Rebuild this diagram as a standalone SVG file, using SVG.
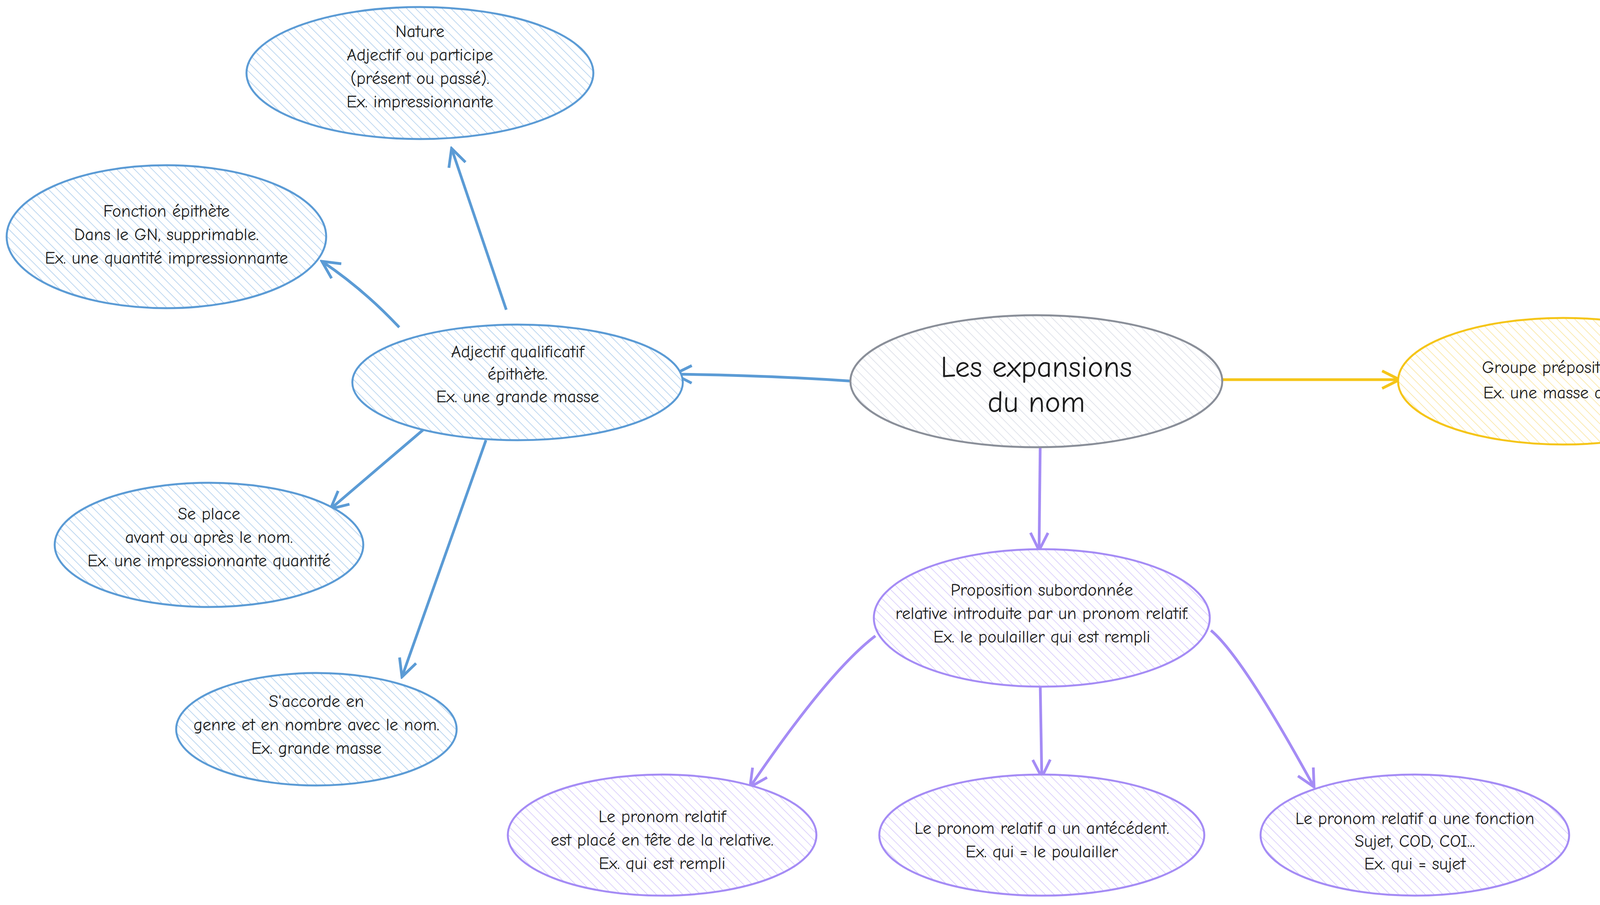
<svg xmlns="http://www.w3.org/2000/svg" width="5524" height="2317" viewBox="0 0 5524 2317">
<style>
text{font-family:"Comic Neue","Open Sans","Liberation Sans",sans-serif;font-size:44px;fill:#1e1e1e;text-anchor:middle}
.t{font-size:76px}
ellipse{stroke-width:5}
.b{stroke:#5b9bd5}.y{stroke:#f5c518}.p{stroke:#a58cf5}.g{stroke:#8a8f99}
.cb{stroke:#5b9bd5;fill:none;stroke-width:7;marker-end:url(#ab)}
.cy{stroke:#f5c518;fill:none;stroke-width:7;marker-end:url(#ay)}
.cp{stroke:#a58cf5;fill:none;stroke-width:7;marker-end:url(#ap)}
</style>
<defs>
<pattern id="hb" width="16" height="16" patternUnits="userSpaceOnUse" patternTransform="rotate(-45)"><rect width="16" height="16" fill="#fff"/><line x1="0" y1="0" x2="0" y2="16" stroke="#a9cbec" stroke-width="3"/></pattern>
<pattern id="hy" width="16" height="16" patternUnits="userSpaceOnUse" patternTransform="rotate(-45)"><rect width="16" height="16" fill="#fff"/><line x1="0" y1="0" x2="0" y2="16" stroke="#f9e49a" stroke-width="3"/></pattern>
<pattern id="hp" width="16" height="16" patternUnits="userSpaceOnUse" patternTransform="rotate(-45)"><rect width="16" height="16" fill="#fff"/><line x1="0" y1="0" x2="0" y2="16" stroke="#d3c6fb" stroke-width="3"/></pattern>
<pattern id="hg" width="16" height="16" patternUnits="userSpaceOnUse" patternTransform="rotate(-45)"><rect width="16" height="16" fill="#fff"/><line x1="0" y1="0" x2="0" y2="16" stroke="#d8dce6" stroke-width="3"/></pattern>
<marker id="ab" viewBox="0 0 20 20" refX="18" refY="10" markerWidth="8" markerHeight="8" orient="auto" markerUnits="strokeWidth"><path d="M2 2L18 10L2 18" fill="none" stroke="#5b9bd5" stroke-width="2.5"/></marker>
<marker id="ay" viewBox="0 0 20 20" refX="18" refY="10" markerWidth="8" markerHeight="8" orient="auto" markerUnits="strokeWidth"><path d="M2 2L18 10L2 18" fill="none" stroke="#f5c518" stroke-width="2.5"/></marker>
<marker id="ap" viewBox="0 0 20 20" refX="18" refY="10" markerWidth="8" markerHeight="8" orient="auto" markerUnits="strokeWidth"><path d="M2 2L18 10L2 18" fill="none" stroke="#a58cf5" stroke-width="2.5"/></marker>
</defs>
<rect width="5524" height="2317" fill="#fff"/>
<g id="connectors">
<path class="cb" d="M2184 976 Q1950 960 1726 958"/>
<path class="cb" d="M1296 793 L1156 380"/>
<path class="cb" d="M1022 838 Q930 740 824 669"/>
<path class="cb" d="M1085 1099 L846 1303"/>
<path class="cb" d="M1244 1127 L1029 1733"/>
<path class="cy" d="M3118 972 L3583 972"/>
<path class="cy" d="M4157 845 L4375 655"/>
<path class="cy" d="M4432 944 L4615 937"/>
<path class="cy" d="M4263 1106 L4446 1332"/>
<path class="cp" d="M2663 1134 L2660 1409"/>
<path class="cp" d="M2241 1628 Q2120 1720 1920 2015"/>
<path class="cp" d="M2663 1754 L2667 1990"/>
<path class="cp" d="M3100 1614 Q3180 1680 3364 2015"/>
</g>
<g id="center"><ellipse class="g" cx="2653" cy="976" rx="476" ry="169" fill="url(#hg)"/><text class="t" x="2653" y="965">Les expansions</text><text class="t" x="2653" y="1055">du nom</text></g>
<g id="adj"><ellipse class="b" cx="1325" cy="979" rx="423" ry="148" fill="url(#hb)"/><text x="1325" y="915">Adjectif qualificatif</text><text x="1325" y="972">épithète.</text><text x="1325" y="1030">Ex. une grande masse</text></g>
<g id="nature"><ellipse class="b" cx="1075" cy="187" rx="444" ry="169" fill="url(#hb)"/><text x="1075" y="95">Nature</text><text x="1075" y="155">Adjectif ou participe</text><text x="1075" y="215">(présent ou passé).</text><text x="1075" y="275">Ex. impressionnante</text></g>
<g id="fonction"><ellipse class="b" cx="426" cy="606" rx="409" ry="183" fill="url(#hb)"/><text x="426" y="555">Fonction épithète</text><text x="426" y="615">Dans le GN, supprimable.</text><text x="426" y="675">Ex. une quantité impressionnante</text></g>
<g id="place"><ellipse class="b" cx="535" cy="1395" rx="395" ry="159" fill="url(#hb)"/><text x="535" y="1330">Se place</text><text x="535" y="1390">avant ou après le nom.</text><text x="535" y="1450">Ex. une impressionnante quantité</text></g>
<g id="accorde"><ellipse class="b" cx="810" cy="1867" rx="359" ry="144" fill="url(#hb)"/><text x="810" y="1810">S'accorde en</text><text x="810" y="1870">genre et en nombre avec le nom.</text><text x="810" y="1930">Ex. grande masse</text></g>
<g id="groupe"><ellipse class="y" cx="4002" cy="976" rx="423" ry="162" fill="url(#hy)"/><text x="4002" y="955">Groupe prépositionnel</text><text x="4002" y="1020">Ex. une masse de gaz</text></g>
<g id="introduit"><ellipse class="y" cx="4558" cy="528" rx="366" ry="148" fill="url(#hy)"/><text x="4558" y="520">Introduit par une préposition</text><text x="4558" y="578">Ex. de</text></g>
<g id="complete"><ellipse class="y" cx="5045" cy="941" rx="416" ry="159" fill="url(#hy)"/><text x="5045" y="930" style="font-size:50px">Complète le nom noyau (masse).</text><text x="5045" y="995" style="font-size:50px">Ex. de gaz</text></g>
<g id="legroupe"><ellipse class="y" cx="4523" cy="1522" rx="409" ry="183" fill="url(#hy)"/><text x="4523" y="1480" style="font-size:50px">Le groupe prépositionnel</text><text x="4523" y="1545" style="font-size:50px">a une fonction :</text><text x="4523" y="1610" style="font-size:50px">complément du nom.</text></g>
<g id="proposition"><ellipse class="p" cx="2667" cy="1582" rx="430" ry="176" fill="url(#hp)"/><text x="2667" y="1525">Proposition subordonnée</text><text x="2667" y="1585">relative introduite par un pronom relatif.</text><text x="2667" y="1645">Ex. le poulailler qui est rempli</text></g>
<g id="placee"><ellipse class="p" cx="1695" cy="2138" rx="395" ry="155" fill="url(#hp)"/><text x="1695" y="2105">Le pronom relatif</text><text x="1695" y="2165">est placé en tête de la relative.</text><text x="1695" y="2225">Ex. qui est rempli</text></g>
<g id="antecedent"><ellipse class="p" cx="2667" cy="2138" rx="416" ry="155" fill="url(#hp)"/><text x="2667" y="2135">Le pronom relatif a un antécédent.</text><text x="2667" y="2195">Ex. qui = le poulailler</text></g>
<g id="fonctionrel"><ellipse class="p" cx="3622" cy="2138" rx="395" ry="155" fill="url(#hp)"/><text x="3622" y="2110">Le pronom relatif a une fonction</text><text x="3622" y="2168">Sujet, COD, COI...</text><text x="3622" y="2226">Ex. qui = sujet</text></g>
</svg>
